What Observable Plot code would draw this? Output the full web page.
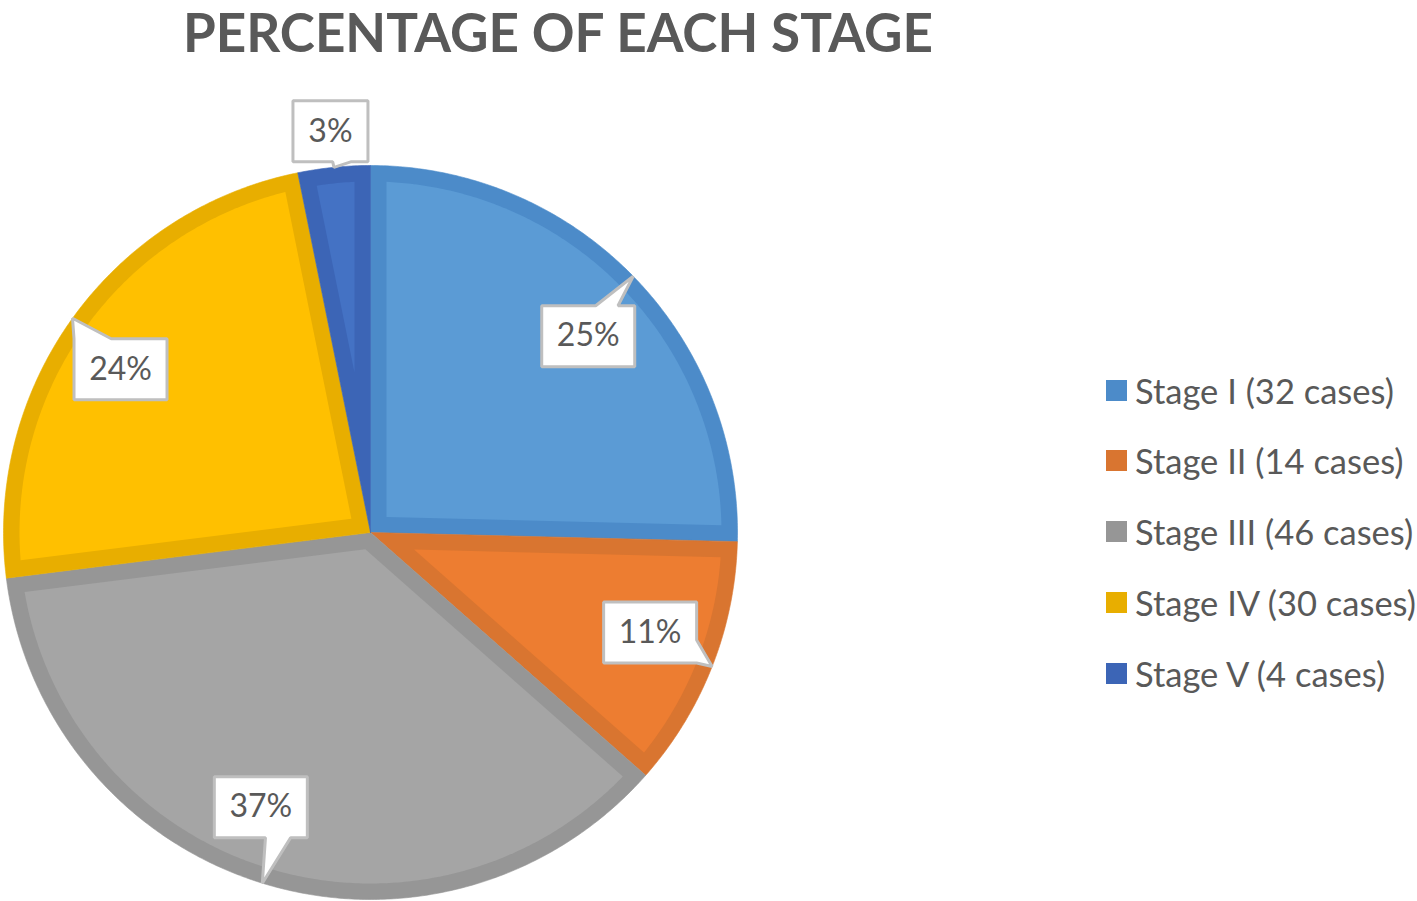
<!DOCTYPE html>
<html><head><meta charset="utf-8">
<script src="https://cdn.jsdelivr.net/npm/d3@7"></script>
<script src="https://cdn.jsdelivr.net/npm/@observablehq/plot@0.6"></script>
<style>
html,body{margin:0;padding:0;background:#fff;overflow:hidden}
#wrap{position:relative;width:1417px;height:901px;font-family:Lato,sans-serif;color:#595959}
#title{position:absolute;z-index:2;left:183px;top:0;font-size:53px;font-weight:700;line-height:normal;white-space:nowrap}
#chart{position:absolute;z-index:1;left:0;top:0}
#legend{position:absolute;z-index:2;left:1106px;top:0}
.row{position:absolute;left:0;height:40px;display:flex;align-items:center;white-space:nowrap;font-size:34.5px}
.sw{width:21px;height:21px;margin-right:8px;flex:none}
</style></head><body>
<div id="wrap"><div id="title">PERCENTAGE OF EACH STAGE</div><div id="chart"></div><div id="legend"></div></div>
<script>
const stages = ["Stage I", "Stage II", "Stage III", "Stage IV", "Stage V"];
const cases = [32, 14, 46, 30, 4];
const fillColors = ["#5B9BD5", "#ED7D31", "#A5A5A5", "#FFC000", "#4472C4"];
const borderColors = ["#4C8BC9", "#D97530", "#969696", "#E8AE00", "#3C65B6"];

// callout layout (pixel offsets of the box centre from the pointer tip)
const calloutLayout = [
  {dx: -45, dy: 60, side: "top", b0: 0.58, b1: 0.82},
  {dx: -62, dy: -34, side: "right", b0: 0.62, b1: 1.0},
  {dx: -1.5, dy: -76, side: "bottom", b0: 0.55, b1: 0.82},
  {dx: 48, dy: 51, side: "top", b0: 0.0, b1: 0.4},
  {dx: -3.5, dy: -36, side: "bottom", b0: 0.53, b1: 0.77}
];

const W = 760, H = 901, mL = 3, mR = 23, mT = 165, mB = 2;
const px = 2 / (W - mL - mR); // data units per pixel
const borderW = 16 * px;

const total = d3.sum(cases);
const TAU = 2 * Math.PI;
let acc = 0;
const slices = stages.map((s, i) => {
  const a0 = acc / total * TAU;
  acc += cases[i];
  const a1 = acc / total * TAU;
  const mid = (a0 + a1) / 2;
  return {s, i, a0, a1, mid, tx: Math.sin(mid), ty: Math.cos(mid),
          pct: Math.round(cases[i] / total * 100) + "%"};
});

function arcPts(r, a0, a1) {
  const n = Math.max(2, Math.ceil((a1 - a0) / (Math.PI / 360)));
  return d3.range(n + 1).map(k => {
    const a = a0 + (a1 - a0) * k / n;
    return {x: r * Math.sin(a), y: r * Math.cos(a)};
  });
}
function outerPts(d) {
  return [{x: 0, y: 0}, ...arcPts(1, d.a0, d.a1), {x: 0, y: 0}];
}
function innerPts(d) {
  const th = d.a1 - d.a0;
  const dist = borderW / Math.sin(th / 2);
  const apex = {x: dist * Math.sin(d.mid), y: dist * Math.cos(d.mid)};
  const R = 1 - borderW;
  const del = Math.asin(borderW / R);
  return [apex, ...arcPts(R, d.a0 + del, d.a1 - del), apex];
}
function calloutPts(d) {
  const L = calloutLayout[d.i];
  const w = 39 + 18 * d.pct.length, h = 61;
  const cx = L.dx, cy = L.dy;
  const l = cx - w / 2, r = cx + w / 2, t = cy - h / 2, b = cy + h / 2;
  const pts = [[l, cy], [l, t]];
  if (L.side === "top") pts.push([l + L.b0 * w, t], [0, 0], [l + L.b1 * w, t]);
  pts.push([r, t]);
  if (L.side === "right") pts.push([r, t + L.b0 * h], [0, 0], [r, t + L.b1 * h]);
  pts.push([r, b]);
  if (L.side === "bottom") pts.push([l + L.b1 * w, b], [0, 0], [l + L.b0 * w, b]);
  pts.push([l, b], [l, cy]);
  return pts.map(([x, y]) => ({k: d.s, x: d.tx + x * px, y: d.ty - y * px}));
}

const marks = [];
for (const d of slices) {
  marks.push(Plot.line(outerPts(d), {x: "x", y: "y", fill: borderColors[d.i], stroke: borderColors[d.i], strokeWidth: 0.6}));
  marks.push(Plot.line(innerPts(d), {x: "x", y: "y", fill: fillColors[d.i], stroke: "none"}));
}
marks.push(Plot.line(slices.flatMap(calloutPts), {x: "x", y: "y", z: "k", fill: "white", stroke: "#BFBFBF", strokeWidth: 3, strokeLinejoin: "miter"}));
marks.push(Plot.text(slices, {
  x: d => d.tx + calloutLayout[d.i].dx * px,
  y: d => d.ty - calloutLayout[d.i].dy * px,
  text: "pct", fontSize: 32, fill: "#595959", fontFamily: "Lato", textAnchor: "middle"
}));

const chart = Plot.plot({
  width: W, height: H,
  marginLeft: mL, marginRight: mR, marginTop: mT, marginBottom: mB,
  x: {domain: [-1, 1], axis: null},
  y: {domain: [-1, 1], axis: null},
  style: {background: "transparent", overflow: "visible"},
  marks
});
document.getElementById("chart").appendChild(chart);

const legend = document.getElementById("legend");
stages.forEach((s, i) => {
  const row = document.createElement("div");
  row.className = "row";
  row.style.top = (390 + i * 70.75 - 20) + "px";
  const sw = document.createElement("div");
  sw.className = "sw";
  sw.style.background = borderColors[i];
  const tx = document.createElement("span");
  tx.textContent = `${s} (${cases[i]} cases)`;
  row.appendChild(sw); row.appendChild(tx);
  legend.appendChild(row);
});
</script>
</body></html>
